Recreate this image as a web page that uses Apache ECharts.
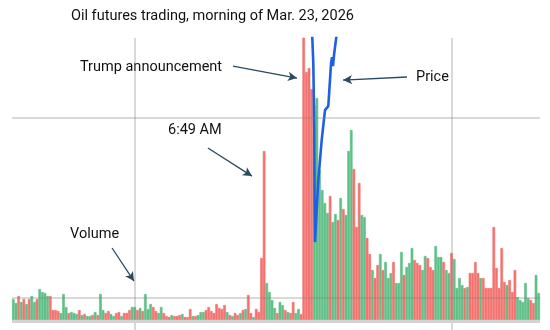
<!DOCTYPE html>
<html>
<head>
<meta charset="utf-8">
<script src="https://cdn.jsdelivr.net/npm/echarts@6/dist/echarts.min.js"></script>
<style>
  html, body { margin: 0; padding: 0; background: #ffffff; }
  #chart { width: 550px; height: 330px; }
</style>
</head>
<body>
<div id="chart"></div>
<script>
// One bar per minute, starting at 05:14
const firstMinute = 5 * 60 + 14;
const minuteCount = 200;

// Contracts traded per minute
const volume = [
  420, 340, 480, 360, 420, 320, 420, 480, 360, 420,
  620, 560, 540, 480, 480, 200, 200, 180, 140, 520,
  260, 140, 160, 140, 120, 200, 100, 120, 80, 80,
  100, 160, 100, 520, 200, 140, 180, 120, 80, 140,
  160, 80, 140, 140, 200, 260, 260, 200, 240, 180,
  520, 220, 320, 260, 180, 140, 260, 140, 80, 60,
  100, 80, 80, 100, 120, 60, 60, 220, 80, 80,
  100, 160, 160, 200, 260, 180, 140, 320, 240, 220,
  300, 160, 100, 80, 140, 100, 140, 200, 220, 500,
  140, 60, 220, 160, 1240, 3380, 740, 560, 400, 240,
  140, 360, 300, 200, 160, 140, 360, 140, 220, 120,
  6200, 4960, 5040, 4620, 4300, 4440, 3000, 2600, 2340, 2140,
  2480, 1960, 2120, 2000, 2440, 2220, 2100, 3380, 3800, 3020,
  1860, 2740, 2100, 2060, 1640, 1320, 1000, 840, 1100, 1320,
  1000, 1160, 840, 940, 1160, 740, 740, 1360, 900, 1060,
  1140, 1440, 1200, 1140, 1100, 1000, 1280, 1240, 1060, 1000,
  1480, 1260, 1260, 1160, 1000, 940, 1340, 1220, 640, 840,
  700, 640, 660, 940, 940, 1160, 940, 840, 840, 640,
  640, 640, 1860, 1040, 640, 1440, 760, 700, 800, 560,
  1000, 460, 400, 360, 740, 440, 400, 340, 900, 540
];

// Minute direction: G = price up, R = price down
const direction = (
  'GGRGRGRGGR' + 'GGGGRRRRGG' + 'GRGGGRGRGG' + 'RGRGGRRGGR' + 'RGRRRGGRGR' +
  'GGGRRGGRRR' + 'GRRR' +
  'GRRRGRGGGR' + 'RRRRRRRGRG' + 'RRGRGRRGRR' + 'RR' +
  'GGGGRGGRGRRGGR' +
  'RRRRGGGGGG' + 'RGGRGRGGGR' + 'RRGGRRGRRG' + 'RGGGRGGGRG' + 'G' +
  'GRRRGGRRRG' + 'GGRGGRGGGG' + 'RGRRRRGRRR' + 'RRRRRRGRRR' + 'GGGGGRRGG'
).split('');

// Futures price, [minute index, price]
const price = [
  [113.56, 105.15], [114.13, 103.04], [114.51, 99.32], [114.62, 95.43],
  [114.77, 93.09], [116.02, 96.54], [117.31, 98.76], [118.56, 100.43],
  [119.81, 100.65], [120.45, 102.10], [120.83, 102.99], [121.21, 103.38],
  [121.59, 102.88], [121.97, 103.49], [122.54, 104.15], [123.30, 104.99]
];

const hourLines = ['06:00', '08:00'];
const priceLines = [90, 100];

// Annotation arrows, [minute index, price] from tail to head
const arrows = [
  [[83.7, 102.88], [107.95, 102.21]],
  [[149.6, 102.27], [125.4, 102.10]],
  [[74.2, 98.32], [90.9, 96.76]],
  [[37.9, 92.76], [46.2, 90.92]]
];

const notes = [
  { text: 'Trump announcement', x: 80, y: 67 },
  { text: 'Price', x: 416, y: 77 },
  { text: '6:49 AM', x: 168, y: 130 },
  { text: 'Volume', x: 70, y: 234 }
];

const UP = '#5FBF86';
const DOWN = '#F4726F';
const FONT = 'Roboto, "Liberation Sans", sans-serif';

const minutes = [];
for (let i = 0; i < minuteCount; i++) {
  const t = firstMinute + i;
  minutes.push(String(Math.floor(t / 60)).padStart(2, '0') + ':' + String(t % 60).padStart(2, '0'));
}

// Each bar is outlined in its own colour so neighbouring minutes butt together
const barData = volume.map((v, i) => {
  const c = direction[i] === 'G' ? UP : DOWN;
  return { value: v, itemStyle: { color: c, borderColor: c, borderWidth: 0.6 } };
});

const gridLineStyle = { color: 'rgba(128,128,128,0.3)', width: 2, type: 'solid' };
const arrowStyle = { color: '#2B4A5E', width: 1.3, type: 'solid' };

const chart = echarts.init(document.getElementById('chart'), null, { renderer: 'canvas' });

chart.setOption({
  animation: false,
  backgroundColor: '#ffffff',
  grid: { left: 12, right: 10, top: 38, bottom: 0 },
  xAxis: [
    { type: 'category', data: minutes, show: false, boundaryGap: true },
    { type: 'value', min: 0, max: minuteCount, show: false }
  ],
  yAxis: [
    { type: 'value', min: -200, max: 5640, show: false, splitLine: { show: false } },
    { type: 'value', min: 88.2, max: 104.44, show: false, splitLine: { show: false } }
  ],
  series: [
    {
      type: 'bar',
      xAxisIndex: 0,
      yAxisIndex: 0,
      data: barData,
      barCategoryGap: '0%',
      clip: true,
      silent: true,
      markLine: {
        silent: true,
        symbol: 'none',
        label: { show: false },
        data: hourLines.map(h => ({ xAxis: h, lineStyle: gridLineStyle }))
          .concat([{ yAxis: -30, lineStyle: { color: '#D3D3D3', width: 3, type: 'solid' } }])
      }
    },
    {
      type: 'line',
      xAxisIndex: 1,
      yAxisIndex: 1,
      data: price,
      showSymbol: false,
      symbol: 'none',
      clip: true,
      silent: true,
      z: 4,
      lineStyle: { color: '#1F5FE3', width: 2.6 },
      markLine: {
        silent: true,
        symbol: 'none',
        label: { show: false },
        data: priceLines.map(p => ({ yAxis: p, lineStyle: gridLineStyle }))
          .concat(arrows.map(a => [
            { coord: a[0], symbol: 'none', lineStyle: arrowStyle },
            { coord: a[1], symbol: 'arrow', symbolSize: [7, 9] }
          ]))
      }
    }
  ],
  graphic: [
    {
      type: 'text',
      style: {
        text: 'Oil futures trading, morning of Mar. 23, 2026',
        x: 71, y: 16.5,
        fill: '#111111',
        font: '14.5px ' + FONT,
        align: 'left',
        verticalAlign: 'middle'
      }
    }
  ].concat(notes.map(n => ({
    type: 'text',
    style: {
      text: n.text,
      x: n.x, y: n.y,
      fill: '#111111',
      font: '14.5px ' + FONT,
      align: 'left',
      verticalAlign: 'middle'
    }
  })))
});
</script>
</body>
</html>
